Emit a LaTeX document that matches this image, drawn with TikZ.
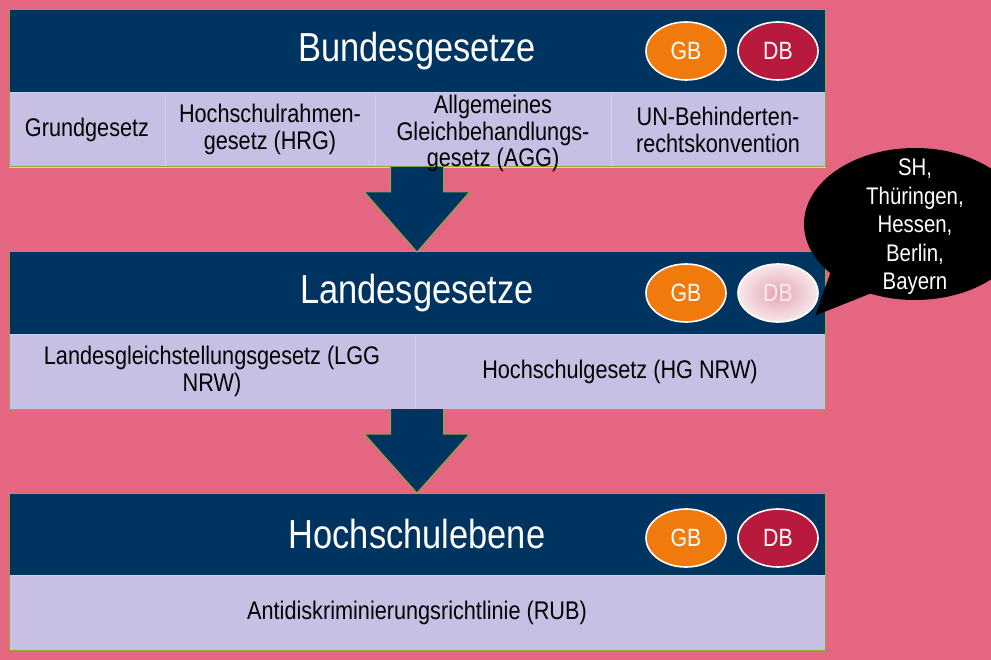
\documentclass[tikz,border=0pt]{standalone}
\usepackage{fontspec}
\setmainfont{Liberation Sans}[FakeStretch=0.85]
\usepackage{tikz}
\usetikzlibrary{positioning,calc,shapes,shapes.callouts}

\definecolor{bgpink}{RGB}{228,102,128}
\definecolor{navy}{RGB}{0,52,96}
\definecolor{lav}{RGB}{200,192,228}
\definecolor{lavline}{RGB}{212,206,234}
\definecolor{orng}{RGB}{240,122,12}
\definecolor{crim}{RGB}{184,26,62}
\definecolor{grn}{RGB}{140,170,60}

\begin{document}
\begin{tikzpicture}
[
   x=1pt, y=-1pt,
   align=center,
   inner sep=0pt, outer sep=0pt
]

\tikzset{header/.style = {fill=navy, text=white, minimum width=816pt, minimum height=82pt, font=\fontsize{40.5}{46}\selectfont}}
\tikzset{cell/.style = {fill=lav, draw=lavline, line width=0.8pt, minimum height=75pt, font=\fontsize{25.5}{27}\selectfont}}
\tikzset{celltext/.style = {font=\fontsize{25.5}{26.5}\selectfont}}
\tikzset{gb/.style = {shape=ellipse, draw=white, line width=1.6pt, fill=orng, text=white, minimum width=80pt, minimum height=58pt, font=\fontsize{25}{26}\selectfont}}
\tikzset{db/.style = {gb, fill=crim}}
\tikzset{dbpale/.style = {gb, shading=radial, inner color=crim!40!white, outer color=crim!10!white, text=crim!8!white}}
\tikzset{frame/.style = {draw=grn, line width=1pt}}
\tikzset{bigarrow/.style = {fill=navy, draw=grn, line width=1pt, line join=miter}}
\tikzset{bubble/.style = {ellipse callout, fill=black, minimum width=222pt, minimum height=152pt, callout pointer arc=26}}
\tikzset{bubbletext/.style = {text=white, font=\fontsize{24}{28.5}\selectfont}}

% background
\fill[bgpink] (0,0) rectangle (991,660);
\useasboundingbox (0,0) rectangle (991,660);

% nodes
\node[header] (bund) at (417,51) {Bundesgesetze};
\node[cell, minimum width=156pt, below right=0pt of bund.south west] (grund) {Grundgesetz};
\node[cell, minimum width=210pt, right=0pt of grund] (hrg) {Hochschulrahmen-\\gesetz (HRG)};
\node[cell, minimum width=236pt, right=0pt of hrg] (agg) {};
\node[cell, minimum width=214pt, right=0pt of agg] (unbrk) {UN-Behinderten-\\rechtskonvention};
\node[db, left=7pt of bund.east] (db1) {DB};
\node[gb, left=12pt of db1] (gb1) {GB};

\node[header] (land) at (417,293) {Landesgesetze};
\node[cell, minimum width=406pt, below right=0pt of land.south west] (lgg) {Landesgleichstellungsgesetz (LGG\\NRW)};
\node[cell, minimum width=410pt, right=0pt of lgg] (hg) {Hochschulgesetz (HG NRW)};
\node[dbpale, left=7pt of land.east] (db2) {DB};
\node[gb, left=12pt of db2] (gb2) {GB};

\node[header] (hoch) at (417,534) {Hochschulebene};
\node[cell, minimum width=816pt, below right=0pt of hoch.south west] (rub) {Antidiskriminierungsrichtlinie (RUB)};
\node[db, left=7pt of hoch.east, yshift=-4pt] (db3) {DB};
\node[gb, left=12pt of db3] (gb3) {GB};

% frames
\draw[frame] (bund.north west) rectangle (unbrk.south east);
\draw[frame] (land.north west) rectangle (hg.south east);
\draw[frame] (hoch.north west) rectangle (rub.south east);

% arrows
\coordinate (a1) at ($(grund.south west)!.5!(unbrk.south east)$);
\coordinate (a2) at ($(lgg.south west)!.5!(hg.south east)$);
\foreach \top/\tip in {a1/land, a2/hoch}
{
   \draw[bigarrow] ($(\top)+(-26.5,0)$) -- ++(0,25) -- ++(-26,0) -- (\tip.north)
      -- ($(\top)+(52.5,25)$) -- ++(-26,0) -- ($(\top)+(26.5,0)$);
}
\node[celltext] (aggtext) at ([yshift=-4pt]agg.center) {Allgemeines\\Gleichbehandlungs-\\gesetz (AGG)};

% callout
\node[bubble, callout absolute pointer={($(db2.south east)+(9,2)$)}] (laender) at (915,224) {};
\node[bubbletext] at ([yshift=-3pt]laender.center) {SH,\\Thüringen,\\Hessen,\\Berlin,\\Bayern};
\end{tikzpicture}
\end{document}
